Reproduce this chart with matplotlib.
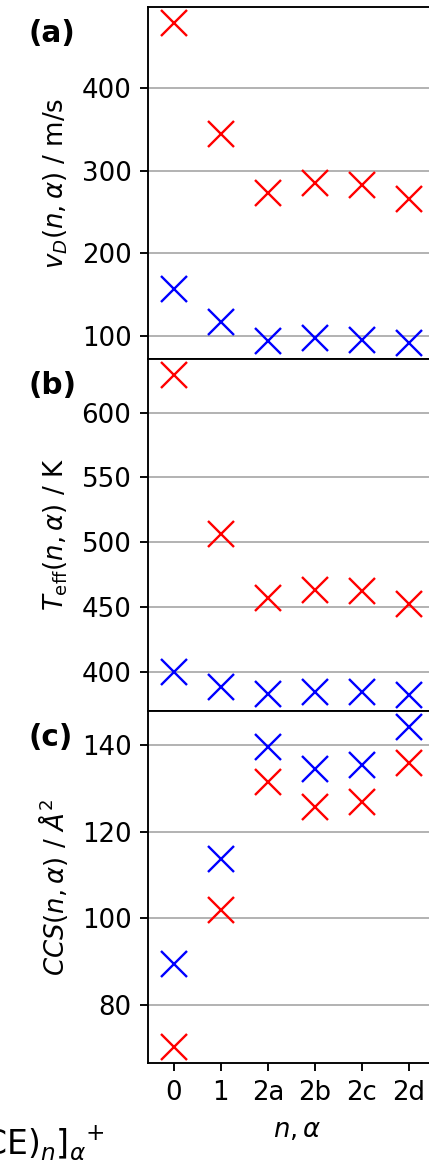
import matplotlib
matplotlib.use("Agg")
import matplotlib.pyplot as plt

# cluster labels on the x axis
labels = ["0", "1", "2a", "2b", "2c", "2d"]

# drift velocity / m/s
vd_red = [478, 344, 273, 285, 282, 266]
vd_blue = [157, 117, 94, 98, 96, 92]

# effective temperature / K
teff_red = [629, 506, 457, 463, 462, 452]
teff_blue = [400, 388, 383, 384, 384, 382]

# collision cross section / A^2
ccs_red = [70.2, 101.8, 131.4, 125.7, 126.9, 135.9]
ccs_blue = [89.4, 113.6, 139.6, 134.4, 135.5, 144.2]

plt.rcParams["font.size"] = 11

DPI = 170
W, H = 429, 1167
fig = plt.figure(figsize=(W / DPI, H / DPI), dpi=DPI)

left = 148 / W
width = 298.5 / W
h = 352 / H
bottoms = [(H - 359) / H, (H - 711) / H, (H - 1063) / H]

panels = [
    (vd_red, vd_blue, r"$v_D(n,\alpha)$ / m/s", "(a)"),
    (teff_red, teff_blue, r"$T_\mathrm{eff}(n,\alpha)$ / K", "(b)"),
    (ccs_red, ccs_blue, r"$CCS(n,\alpha)$ / $\AA^2$", "(c)"),
]

x = list(range(len(labels)))
for i, (red, blue, ylab, tag) in enumerate(panels):
    ax = fig.add_axes([left, bottoms[i], width, h])
    ax.plot(x, red, "x", color="red", ms=11, mew=1.0, ls="none")
    ax.plot(x, blue, "x", color="blue", ms=11, mew=1.0, ls="none")
    ax.set_xlim(-0.55, 5.8)
    ax.spines["right"].set_visible(False)
    ax.grid(axis="y", color="#b0b0b0", lw=0.8)
    ax.set_axisbelow(True)
    ax.set_ylabel(ylab, labelpad=5)
    ax.text(-0.402, 0.925, tag, transform=ax.transAxes, fontweight="bold",
            ha="left", va="center", fontsize=12.5)
    ax.set_xticks(x)
    if i < 2:
        ax.tick_params(axis="x", bottom=False, labelbottom=False)
    else:
        ax.set_xticklabels(labels)
        ax.set_xlabel(r"$n,\alpha$", labelpad=5)

# cut-off legend text at the lower left
fig.text(105 / W, (H - 1155) / H, r"$[\mathrm{M(CE)}_{n}]_{\alpha}{}^{+}$",
         ha="right", va="baseline", fontsize=14)

fig.savefig("out.png", dpi=DPI)
